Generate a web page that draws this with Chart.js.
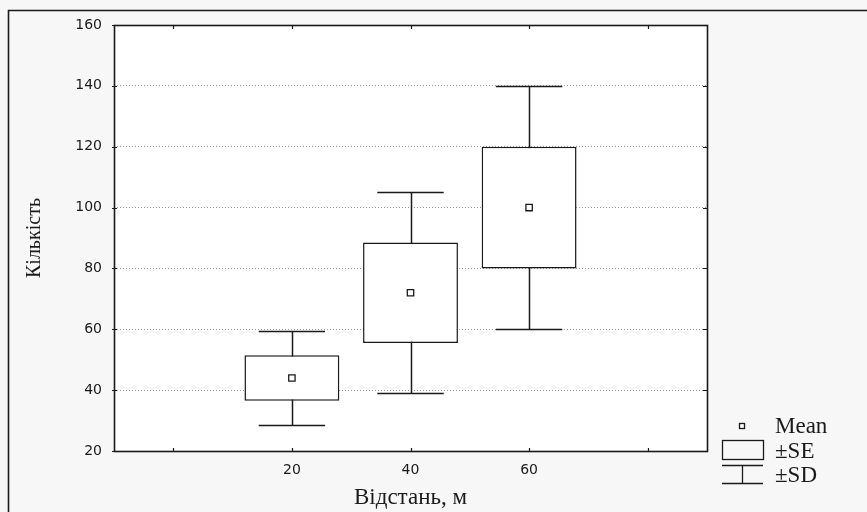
<!DOCTYPE html>
<html>
<head>
<meta charset="utf-8">
<script src="https://cdn.jsdelivr.net/npm/chart.js@4/dist/chart.umd.min.js"></script>
<style>
  html, body { margin: 0; padding: 0; background: #f7f7f7; }
  #wrap { width: 867px; height: 512px; }
</style>
</head>
<body>
<div id="wrap"><canvas id="chart" width="867" height="512"></canvas></div>
<script>
// distance groups and their statistics
const distances = [20, 40, 60];
const means = [44, 72, 100];
const seLow = [36.5, 55.5, 80];
const seHigh = [51.5, 88.5, 120];
const sdLow = [28.5, 39, 60];
const sdHigh = [59.5, 105, 140];

const xTicks = [0, 20, 40, 60, 80];
const xTickLabels = ['', '20', '40', '60', ''];
const yTicks = [20, 40, 60, 80, 100, 120, 140, 160];

const legendLabels = ['Mean', '±SE', '±SD'];

const tickFont = { family: 'DejaVu Sans', size: 14 };
const serifFont = 'Liberation Serif';

/**
 * фон, рамка, усы и легенда
 */
const boxPlotPlugin = {
  id: 'boxplot',
  beforeDraw: (chart) => {
    const ctx = chart.ctx;
    const area = chart.chartArea;

    ctx.save();
    ctx.fillStyle = '#f7f7f7';
    ctx.fillRect(0, 0, chart.width, chart.height);
    ctx.fillStyle = '#ffffff';
    ctx.fillRect(area.left, area.top, area.right - area.left, area.bottom - area.top);

    // outer frame (open at right and bottom)
    ctx.strokeStyle = '#1a1a1a';
    ctx.lineWidth = 1.6;
    ctx.beginPath();
    ctx.moveTo(8.5, chart.height);
    ctx.lineTo(8.5, 10.5);
    ctx.lineTo(chart.width, 10.5);
    ctx.stroke();
    ctx.restore();
  },
  beforeDatasetsDraw: (chart) => {
    const ctx = chart.ctx;
    const xs = chart.scales.x;
    const ys = chart.scales.y;

    ctx.save();
    ctx.strokeStyle = '#1a1a1a';
    ctx.lineWidth = 1.5;
    distances.forEach((d, i) => {
      const xc = Math.round(xs.getPixelForValue(d)) + 0.5;
      const xl = xs.getPixelForValue(d - 5.6);
      const xr = xs.getPixelForValue(d + 5.6);
      const yt = Math.round(ys.getPixelForValue(sdHigh[i])) + 0.5;
      const yb = Math.round(ys.getPixelForValue(sdLow[i])) + 0.5;
      ctx.beginPath();
      ctx.moveTo(xc, yt);
      ctx.lineTo(xc, yb);
      ctx.moveTo(xl, yt);
      ctx.lineTo(xr, yt);
      ctx.moveTo(xl, yb);
      ctx.lineTo(xr, yb);
      ctx.stroke();
    });
    ctx.restore();
  },
  afterDraw: (chart) => {
    const ctx = chart.ctx;
    const area = chart.chartArea;
    const xs = chart.scales.x;
    const ys = chart.scales.y;

    ctx.save();
    ctx.strokeStyle = '#1a1a1a';
    ctx.lineWidth = 1.6;
    ctx.strokeRect(area.left + 0.5, area.top + 0.5, area.right - area.left, area.bottom - area.top);

    // small inward tick marks
    ctx.lineWidth = 1.2;
    ctx.beginPath();
    xs.ticks.forEach((t) => {
      const x = Math.round(xs.getPixelForValue(t.value)) + 0.5;
      ctx.moveTo(x, area.top);
      ctx.lineTo(x, area.top + 4);
      ctx.moveTo(x, area.bottom);
      ctx.lineTo(x, area.bottom - 3);
    });
    ys.ticks.forEach((t) => {
      const y = Math.round(ys.getPixelForValue(t.value)) + 0.5;
      ctx.moveTo(area.left - 2, y);
      ctx.lineTo(area.left + 3, y);
      ctx.moveTo(area.right, y);
      ctx.lineTo(area.right - 4, y);
    });
    ctx.stroke();

    // legend
    const lx = 722;
    const tx = 775;
    ctx.lineWidth = 1.3;
    ctx.fillStyle = '#ffffff';
    ctx.fillRect(739, 423, 6, 6);
    ctx.strokeRect(739.5, 423.5, 5, 5);

    ctx.strokeRect(lx + 0.5, 440.5, 41, 19);

    ctx.beginPath();
    ctx.moveTo(lx, 465.5);
    ctx.lineTo(lx + 41, 465.5);
    ctx.moveTo(lx + 20.5, 465.5);
    ctx.lineTo(lx + 20.5, 483.5);
    ctx.moveTo(lx, 483.5);
    ctx.lineTo(lx + 41, 483.5);
    ctx.stroke();

    ctx.fillStyle = '#1a1a1a';
    ctx.font = `23px "${serifFont}"`;
    ctx.textAlign = 'left';
    ctx.textBaseline = 'middle';
    ctx.fillText(legendLabels[0], tx, 427);
    ctx.fillText(legendLabels[1], tx, 452);
    ctx.fillText(legendLabels[2], tx, 476);
    ctx.restore();
  },
};

const chart = new Chart(document.getElementById('chart'), {
  data: {
    datasets: [
      {
        type: 'scatter',
        label: 'Mean',
        data: distances.map((d, i) => ({ x: d, y: means[i] })),
        pointStyle: 'rect',
        radius: 4.5,
        borderWidth: 1.3,
        borderColor: '#1a1a1a',
        backgroundColor: '#ffffff',
        order: 0,
      },
      {
        type: 'bar',
        label: '±SE',
        data: distances.map((d, i) => ({ x: d, y: [seLow[i], seHigh[i]] })),
        backgroundColor: '#ffffff',
        borderColor: '#1a1a1a',
        borderWidth: 1.5,
        borderSkipped: false,
        barPercentage: 0.8,
        categoryPercentage: 1.0,
        order: 1,
      },
    ],
  },
  options: {
    responsive: false,
    animation: false,
    events: [],
    layout: {
      padding: { left: 0, right: 160, top: 25, bottom: 0 },
    },
    scales: {
      x: {
        type: 'linear',
        min: -10,
        max: 90,
        offset: false,
        afterFit: (scale) => { scale.height = 61; },
        afterBuildTicks: (scale) => {
          scale.ticks = xTicks.map((v) => ({ value: v }));
        },
        ticks: {
          padding: 3,
          color: '#1a1a1a',
          font: tickFont,
          maxRotation: 0,
          autoSkip: false,
          callback: (value) => xTickLabels[xTicks.indexOf(value)] ?? '',
        },
        grid: { display: false, offset: false },
        border: { display: false },
        title: {
          display: true,
          text: 'Відстань, м',
          color: '#1a1a1a',
          font: { family: serifFont, size: 23 },
          padding: { top: 0, bottom: 0 },
        },
      },
      y: {
        type: 'linear',
        min: yTicks[0],
        max: yTicks[yTicks.length - 1],
        afterFit: (scale) => { scale.width = 114; },
        afterBuildTicks: (scale) => {
          scale.ticks = yTicks.map((v) => ({ value: v }));
        },
        ticks: {
          padding: 12,
          color: '#1a1a1a',
          font: tickFont,
        },
        grid: {
          color: '#9a9a9a',
          lineWidth: 1,
          drawTicks: false,
        },
        border: { display: false, dash: [1, 2] },
        title: {
          display: true,
          text: 'Кількість',
          color: '#1a1a1a',
          font: { family: serifFont, size: 20 },
          padding: { top: 23, bottom: 0 },
        },
      },
    },
    plugins: {
      legend: { display: false },
      tooltip: { enabled: false },
    },
  },
  plugins: [boxPlotPlugin],
});
</script>
</body>
</html>
